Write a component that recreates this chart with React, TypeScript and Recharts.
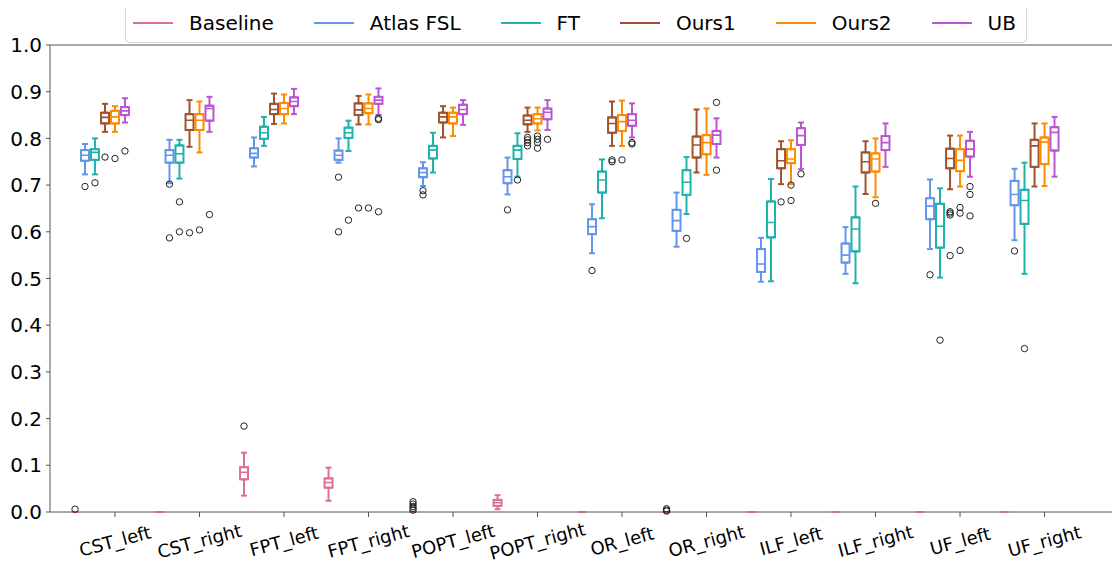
import React from "react";
import {
  ComposedChart,
  XAxis,
  YAxis,
  Bar,
  Scatter,
  ErrorBar,
  ReferenceLine,
  Legend,
} from "recharts";

// [whisker low, q1, median, q3, whisker high] per category
type Stat = [number, number, number, number, number];

const categories = [
  "CST_left", "CST_right", "FPT_left", "FPT_right", "POPT_left", "POPT_right",
  "OR_left", "OR_right", "ILF_left", "ILF_right", "UF_left", "UF_right",
];

const yTicks = [0, 0.1, 0.2, 0.3, 0.4, 0.5, 0.6, 0.7, 0.8, 0.9, 1.0];

const zero: Stat = [0, 0, 0, 0, 0];

const baseline: Stat[] = [
  zero, zero,
  [0.035, 0.07, 0.085, 0.096, 0.127],
  [0.024, 0.052, 0.063, 0.072, 0.095],
  zero,
  [0.006, 0.013, 0.02, 0.026, 0.036],
  zero, zero, zero, zero, zero, zero,
];
const baselineOut: number[][] = [
  [0.006], [], [0.184], [], [0.022, 0.017, 0.012, 0.008, 0.004], [],
  [], [0.007, 0.004, 0.002], [], [], [], [],
];

const atlas: Stat[] = [
  [0.723, 0.752, 0.764, 0.775, 0.788],
  [0.704, 0.748, 0.764, 0.775, 0.797],
  [0.74, 0.759, 0.768, 0.779, 0.802],
  [0.748, 0.754, 0.764, 0.774, 0.8],
  [0.698, 0.717, 0.727, 0.736, 0.749],
  [0.68, 0.704, 0.718, 0.732, 0.759],
  [0.554, 0.595, 0.611, 0.627, 0.659],
  [0.568, 0.602, 0.624, 0.647, 0.684],
  [0.493, 0.514, 0.531, 0.563, 0.587],
  [0.51, 0.534, 0.55, 0.575, 0.61],
  [0.563, 0.627, 0.655, 0.672, 0.712],
  [0.582, 0.657, 0.68, 0.709, 0.735],
];
const atlasOut: number[][] = [
  [0.697], [0.702, 0.587], [], [0.717, 0.6], [0.688, 0.679], [0.647],
  [0.517], [], [], [], [0.508], [0.559],
];

const ft: Stat[] = [
  [0.723, 0.754, 0.77, 0.777, 0.8],
  [0.714, 0.748, 0.767, 0.785, 0.797],
  [0.784, 0.799, 0.812, 0.825, 0.846],
  [0.773, 0.801, 0.812, 0.823, 0.838],
  [0.727, 0.757, 0.775, 0.784, 0.812],
  [0.718, 0.756, 0.775, 0.784, 0.811],
  [0.629, 0.684, 0.711, 0.729, 0.755],
  [0.638, 0.679, 0.706, 0.732, 0.76],
  [0.494, 0.588, 0.62, 0.665, 0.713],
  [0.49, 0.558, 0.606, 0.631, 0.697],
  [0.502, 0.566, 0.612, 0.66, 0.693],
  [0.51, 0.617, 0.667, 0.69, 0.748],
];
const ftOut: number[][] = [
  [0.705], [0.664, 0.6], [], [0.625], [], [0.711],
  [], [0.586], [], [], [0.368], [0.35],
];

const ours1: Stat[] = [
  [0.814, 0.832, 0.845, 0.855, 0.874],
  [0.782, 0.818, 0.839, 0.852, 0.882],
  [0.831, 0.852, 0.862, 0.874, 0.896],
  [0.83, 0.85, 0.861, 0.875, 0.891],
  [0.802, 0.834, 0.846, 0.855, 0.869],
  [0.814, 0.83, 0.839, 0.849, 0.866],
  [0.784, 0.812, 0.832, 0.845, 0.879],
  [0.727, 0.759, 0.786, 0.804, 0.862],
  [0.702, 0.736, 0.752, 0.777, 0.794],
  [0.681, 0.727, 0.75, 0.77, 0.794],
  [0.691, 0.736, 0.757, 0.778, 0.806],
  [0.697, 0.739, 0.784, 0.797, 0.832],
];
const ours1Out: number[][] = [
  [0.76], [0.598], [], [0.651], [], [0.802, 0.797, 0.791, 0.784],
  [0.754, 0.75], [], [0.664], [], [0.643, 0.64, 0.636, 0.549], [],
];

const ours2: Stat[] = [
  [0.814, 0.832, 0.846, 0.859, 0.869],
  [0.77, 0.818, 0.839, 0.852, 0.879],
  [0.832, 0.852, 0.864, 0.876, 0.894],
  [0.83, 0.854, 0.864, 0.875, 0.894],
  [0.805, 0.832, 0.846, 0.855, 0.866],
  [0.817, 0.832, 0.842, 0.852, 0.866],
  [0.784, 0.816, 0.836, 0.85, 0.881],
  [0.722, 0.766, 0.791, 0.807, 0.864],
  [0.702, 0.747, 0.756, 0.777, 0.796],
  [0.674, 0.729, 0.756, 0.768, 0.8],
  [0.697, 0.73, 0.753, 0.777, 0.806],
  [0.698, 0.745, 0.792, 0.802, 0.832],
];
const ours2Out: number[][] = [
  [0.757], [0.604], [], [0.651], [], [0.805, 0.798, 0.791, 0.779],
  [0.754], [], [0.7, 0.667], [0.661], [0.652, 0.64, 0.56], [],
];

const ub: Stat[] = [
  [0.834, 0.85, 0.859, 0.867, 0.886],
  [0.814, 0.838, 0.864, 0.87, 0.889],
  [0.852, 0.869, 0.879, 0.888, 0.906],
  [0.85, 0.874, 0.882, 0.889, 0.907],
  [0.829, 0.852, 0.862, 0.872, 0.882],
  [0.818, 0.841, 0.856, 0.864, 0.882],
  [0.802, 0.827, 0.839, 0.852, 0.875],
  [0.759, 0.788, 0.807, 0.816, 0.843],
  [0.734, 0.786, 0.806, 0.822, 0.834],
  [0.739, 0.775, 0.791, 0.805, 0.832],
  [0.718, 0.761, 0.777, 0.795, 0.814],
  [0.718, 0.774, 0.813, 0.824, 0.846],
];
const ubOut: number[][] = [
  [0.773], [0.637], [], [0.843, 0.84, 0.643], [], [0.798],
  [0.791, 0.788], [0.877, 0.732], [0.724], [], [0.697, 0.68, 0.634], [],
];

const series = [
  { name: "Baseline", color: "#DB7093", stats: baseline, out: baselineOut, offset: -0.473 },
  { name: "Atlas FSL", color: "#6495ED", stats: atlas, out: atlasOut, offset: -0.355 },
  { name: "FT", color: "#20B2AA", stats: ft, out: ftOut, offset: -0.237 },
  { name: "Ours1", color: "#A0522D", stats: ours1, out: ours1Out, offset: -0.118 },
  { name: "Ours2", color: "#FF8C00", stats: ours2, out: ours2Out, offset: 0 },
  { name: "UB", color: "#BA55D3", stats: ub, out: ubOut, offset: 0.118 },
];

const boxRows: any[] = [];
const medianRows: any[] = [];
const outlierRows: any[] = [];
const whiskerRows: any[][] = series.map(() => []);

series.forEach((s, si) => {
  categories.forEach((_, i) => {
    const [lo, q1, med, q3, hi] = s.stats[i];
    const x = i + s.offset;
    boxRows.push({ x, box: [q1, q3], color: s.color });
    medianRows.push({ x, y: med, color: s.color });
    whiskerRows[si].push({ x, y: q1, err: [q1 - lo, 0] });
    whiskerRows[si].push({ x, y: q3, err: [0, hi - q3] });
    s.out[i].forEach((v) => outlierRows.push({ x, y: v }));
  });
});

const FONT = "'DejaVu Sans', sans-serif";
const SPINE = "#555";

const BoxShape = (props: any) => {
  const { x, y, width, height, payload } = props;
  const h = Math.abs(height || 0);
  const top = height < 0 ? y + height : y;
  if (h < 1) {
    return <line x1={x} x2={x + width} y1={top} y2={top} stroke={payload.color} strokeWidth={2} />;
  }
  return <rect x={x} y={top} width={width} height={h} fill="none" stroke={payload.color} strokeWidth={2} />;
};

const MedianShape = (props: any) => {
  const { cx, cy, payload } = props;
  return <line x1={cx - 4} x2={cx + 4} y1={cy} y2={cy} stroke={payload.color} strokeWidth={1.6} />;
};

const OutlierShape = (props: any) => {
  const { cx, cy } = props;
  return <circle cx={cx} cy={cy} r={3.2} fill="none" stroke="#222" strokeWidth={1} />;
};

const XTick = (props: any) => {
  const { x, y, payload } = props;
  const ty = y + 22;
  return (
    <text
      x={x}
      y={ty}
      transform={`rotate(-15, ${x}, ${ty})`}
      textAnchor="middle"
      dominantBaseline="central"
      fontSize={18}
      fill="#000"
    >
      {categories[payload.value]}
    </text>
  );
};

const LegendBox = () => (
  <div
    style={{
      display: "flex",
      alignItems: "center",
      border: "1px solid #d6d6d6",
      borderRadius: 4,
      background: "#fff",
      height: 38,
      padding: "0 10px 0 7px",
      fontSize: 20,
      fontFamily: FONT,
      color: "#000",
      whiteSpace: "nowrap",
    }}
  >
    {series.map((s, i) => (
      <div key={s.name} style={{ display: "flex", alignItems: "center", marginLeft: i ? 40 : 0 }}>
        <div style={{ width: 40, borderTop: `2px solid ${s.color}` }} />
        <span style={{ marginLeft: 16 }}>{s.name}</span>
      </div>
    ))}
  </div>
);

export default function App() {
  return (
    <div style={{ fontFamily: FONT }}>
      <ComposedChart
        width={1112}
        height={553}
        data={boxRows}
        margin={{ top: 37, right: 0, bottom: 0, left: 0 }}
      >
        <XAxis
          dataKey="x"
          type="number"
          domain={[-0.769, 11.893]}
          ticks={categories.map((_, i) => i)}
          allowDataOverflow
          tick={<XTick />}
          tickSize={5}
          tickMargin={2}
          height={49}
          axisLine={{ stroke: SPINE }}
          tickLine={{ stroke: SPINE }}
        />
        <YAxis
          type="number"
          domain={[0, 1]}
          ticks={yTicks}
          tickFormatter={(v: number) => v.toFixed(1)}
          width={42}
          tickSize={4}
          tickMargin={4}
          tick={{ fontSize: 20, fill: "#000" }}
          axisLine={{ stroke: SPINE }}
          tickLine={{ stroke: SPINE }}
        />
        <ReferenceLine y={1} stroke={SPINE} />
        <Legend
          layout="vertical"
          align="center"
          verticalAlign="middle"
          content={() => <LegendBox />}
          wrapperStyle={{ position: "absolute", top: -5, left: 117, width: "auto", height: 40 }}
        />
        {series.map((s, si) => (
          <Scatter
            key={`w-${s.name}`}
            data={whiskerRows[si]}
            dataKey="y"
            shape={() => <g />}
            isAnimationActive={false}
          >
            <ErrorBar
              dataKey="err"
              direction="y"
              width={3}
              stroke={s.color}
              strokeWidth={2}
              isAnimationActive={false}
            />
          </Scatter>
        ))}
        <Bar dataKey="box" barSize={8} shape={<BoxShape />} isAnimationActive={false} />
        <Scatter data={medianRows} dataKey="y" shape={<MedianShape />} isAnimationActive={false} />
        <Scatter data={outlierRows} dataKey="y" shape={<OutlierShape />} isAnimationActive={false} />
      </ComposedChart>
    </div>
  );
}
